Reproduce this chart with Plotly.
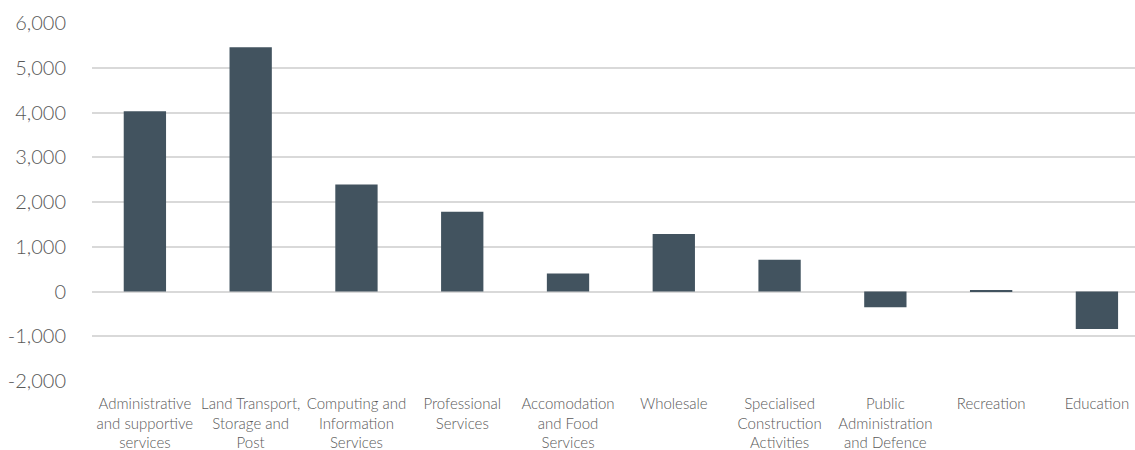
import plotly.graph_objects as go

categories = [
    "Administrative<br>and supportive<br>services",
    "Land Transport,<br>Storage and<br>Post",
    "Computing and<br>Information<br>Services",
    "Professional<br>Services",
    "Accomodation<br>and Food<br>Services",
    "Wholesale",
    "Specialised<br>Construction<br>Activities",
    "Public<br>Administration<br>and Defence",
    "Recreation",
    "Education",
]
values = [4030, 5460, 2390, 1780, 400, 1285, 710, -350, 30, -840]

y_ticks = [-2000, -1000, 0, 1000, 2000, 3000, 4000, 5000, 6000]

bar_color = "#42535f"
grid_color = "#d9d9d9"
text_color = "#595959"

fig = go.Figure(
    go.Bar(
        x=list(range(len(categories))),
        y=values,
        marker=dict(color=bar_color, line=dict(width=0)),
        width=0.4,
    )
)

fig.update_layout(
    width=1135,
    height=450,
    margin=dict(l=92, r=0, t=23, b=69),
    plot_bgcolor="white",
    paper_bgcolor="white",
    showlegend=False,
    font=dict(family="Lato", color=text_color, weight=300),
)

fig.update_xaxes(
    range=[-0.5, 9.36],
    tickmode="array",
    tickvals=list(range(len(categories))),
    ticktext=categories,
    tickfont=dict(size=15, color=text_color, family="Lato", weight=300),
    ticklabelstandoff=12,
    showgrid=False,
    showline=False,
    ticks="",
    zeroline=False,
)

fig.update_yaxes(
    range=[-2000, 6000],
    tickmode="array",
    tickvals=y_ticks,
    ticktext=[f"{v:,}" for v in y_ticks],
    tickfont=dict(size=20, color=text_color, family="Lato", weight=300),
    showgrid=True,
    gridcolor=grid_color,
    gridwidth=1.5,
    zeroline=True,
    zerolinecolor=grid_color,
    zerolinewidth=1.5,
    showline=False,
    ticks="outside",
    ticklen=21,
    tickcolor="rgba(0,0,0,0)",
)

fig.write_html("out.html")
